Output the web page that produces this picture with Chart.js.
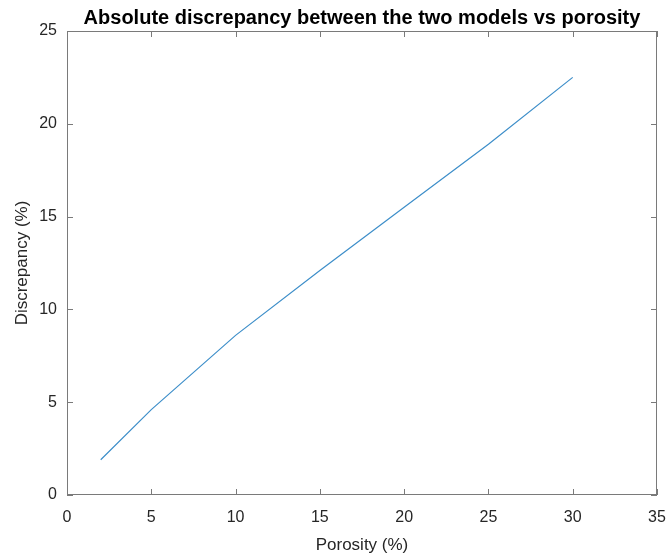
<!DOCTYPE html>
<html>
<head>
<meta charset="utf-8">
<script src="https://cdn.jsdelivr.net/npm/chart.js@4/dist/chart.umd.min.js"></script>
<style>
    html, body { margin: 0; padding: 0; background: #fff; }
    #wrap { width: 668px; height: 556px; }
</style>
</head>
<body>
<div id="wrap"><canvas id="chart" width="668" height="556"></canvas></div>
<script>
// Data
const porosity = [2, 5, 10, 15, 20, 25, 30];
const discrepancy = [1.9, 4.6, 8.6, 12.1, 15.5, 18.9, 22.5];
const xTicks = [0, 5, 10, 15, 20, 25, 30, 35];
const yTicks = [0, 5, 10, 15, 20, 25];

const TEXT = '#262626';
const AXIS = '#7a7a7a';
const FONT = "'Liberation Sans', Arial, sans-serif";

// Box around the plot area plus inward tick marks on all four sides (MATLAB style)
const boxPlugin = {
    id: 'box',
    afterDatasetsDraw(chart) {
        const { ctx, chartArea: a, scales } = chart;
        const len = 6;
        ctx.save();
        ctx.strokeStyle = AXIS;
        ctx.lineWidth = 1;
        ctx.strokeRect(a.left + 0.5, a.top + 0.5, a.right - a.left - 1, a.bottom - a.top - 1);
        ctx.beginPath();
        for (const v of xTicks) {
            const px = Math.round(scales.x.getPixelForValue(v)) + 0.5;
            ctx.moveTo(px, a.bottom); ctx.lineTo(px, a.bottom - len);
            ctx.moveTo(px, a.top); ctx.lineTo(px, a.top + len);
        }
        for (const v of yTicks) {
            const py = Math.round(scales.y.getPixelForValue(v)) + 0.5;
            ctx.moveTo(a.left, py); ctx.lineTo(a.left + len, py);
            ctx.moveTo(a.right, py); ctx.lineTo(a.right - len, py);
        }
        ctx.stroke();
        ctx.restore();
    }
};

new Chart(document.getElementById('chart').getContext('2d'), {
    type: 'line',
    data: {
        datasets: [{
            data: porosity.map((x, i) => ({ x: x, y: discrepancy[i] })),
            borderColor: '#3d8ec9',
            borderWidth: 1.2,
            pointRadius: 0,
            tension: 0,
            fill: false
        }]
    },
    options: {
        responsive: false,
        animation: false,
        layout: { padding: { left: 0, right: 11, top: 0, bottom: 0 } },
        plugins: {
            legend: { display: false },
            tooltip: { enabled: false },
            title: {
                display: true,
                text: 'Absolute discrepancy between the two models vs porosity',
                color: '#000',
                fullSize: false,
                font: { family: FONT, size: 20, weight: 'bold' },
                padding: { top: 6, bottom: 1 }
            }
        },
        scales: {
            x: {
                type: 'linear',
                min: 0,
                max: 35,
                afterFit(s) { s.height = 61; s.paddingLeft = 0; s.paddingRight = 0; },
                afterBuildTicks(s) { s.ticks = xTicks.map(v => ({ value: v })); },
                grid: { display: false, drawTicks: false },
                border: { display: false },
                ticks: { color: TEXT, padding: 13, font: { family: FONT, size: 16 }, maxRotation: 0 },
                title: {
                    display: true,
                    text: 'Porosity (%)',
                    color: TEXT,
                    font: { family: FONT, size: 17 },
                    padding: { top: 3, bottom: 0 }
                }
            },
            y: {
                type: 'linear',
                min: 0,
                max: 25,
                afterFit(s) { s.width = 67; s.paddingTop = 0; s.paddingBottom = 0; },
                afterBuildTicks(s) { s.ticks = yTicks.map(v => ({ value: v })); },
                grid: { display: false, drawTicks: false },
                border: { display: false },
                ticks: { color: TEXT, padding: 10, font: { family: FONT, size: 16 } },
                title: {
                    display: true,
                    text: 'Discrepancy (%)',
                    color: TEXT,
                    font: { family: FONT, size: 17 },
                    padding: { top: 12, bottom: 0 }
                }
            }
        }
    },
    plugins: [boxPlugin]
});
</script>
</body>
</html>
